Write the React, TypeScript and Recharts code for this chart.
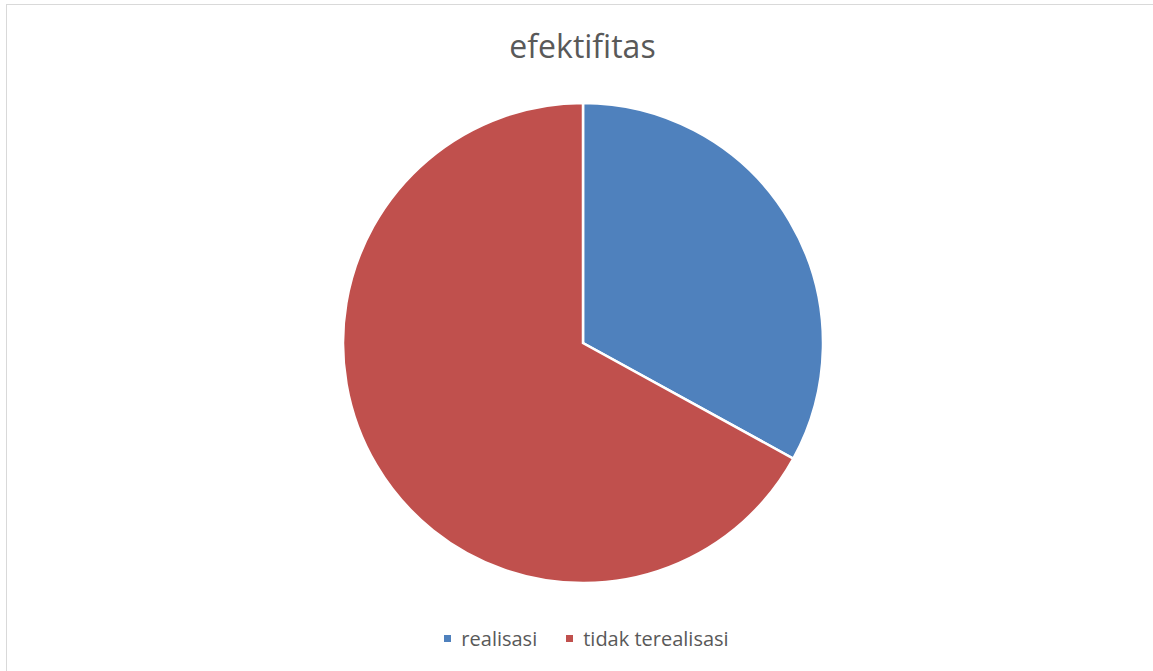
import { PieChart, Pie, Cell, Legend } from "recharts";

const categories = ["realisasi", "tidak terealisasi"];
const values = [33, 67];
const COLORS = ["#4F81BD", "#C0504D"];

const data = categories.map((name, i) => ({ name, value: values[i] }));

// legend like the office one: small squares, wide gap between items
function renderLegend(props: any) {
  const items = props.payload || [];
  return (
    <div style={{ display: "flex", justifyContent: "center", gap: 29, paddingLeft: 4 }}>
      {items.map((entry: any) => (
        <div key={entry.value} style={{ display: "flex", alignItems: "center", gap: 10 }}>
          <span style={{ width: 7, height: 7, background: entry.color, display: "inline-block" }} />
          <span style={{ color: "#595959", fontSize: 20 }}>{entry.value}</span>
        </div>
      ))}
    </div>
  );
}

export default function App() {
  return (
    <div
      style={{
        position: "absolute",
        left: 6,
        top: 4,
        width: 1170,
        height: 690,
        border: "1px solid #d9d9d9",
        background: "#fff",
        fontFamily: "'Open Sans', sans-serif",
      }}
    >
      <div
        style={{
          position: "absolute",
          top: 19,
          width: 1151,
          textAlign: "center",
          fontSize: 32,
          color: "#595959",
        }}
      >
        efektifitas
      </div>
      <PieChart width={1155} height={667}>
        <Pie
          data={data}
          dataKey="value"
          nameKey="name"
          cx={571}
          cy={333}
          outerRadius={240}
          startAngle={90}
          endAngle={-270}
          stroke="#fff"
          strokeWidth={2.5}
          isAnimationActive={false}
        >
          {data.map((d, i) => (
            <Cell key={d.name} fill={COLORS[i]} />
          ))}
        </Pie>
        <Legend verticalAlign="bottom" wrapperStyle={{ bottom: 20 }} content={renderLegend} />
      </PieChart>
    </div>
  );
}
